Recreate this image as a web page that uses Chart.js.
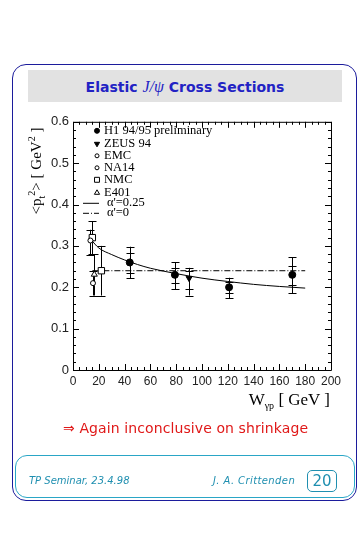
<!DOCTYPE html>
<html>
<head>
<meta charset="utf-8">
<script src="https://cdn.jsdelivr.net/npm/chart.js@4.4.1/dist/chart.umd.min.js"></script>
<style>
  body { margin: 0; width: 363px; height: 535px; background: #fff; position: relative; overflow: hidden; font-family: 'Liberation Sans', sans-serif; }
  .frame { position: absolute; left: 12px; top: 64px; width: 345px; height: 437px; box-sizing: border-box; border: 1.5px solid #1c1c9c; border-radius: 14px; }
  .title { position: absolute; left: 28px; top: 70px; width: 314px; height: 32px; background: #e2e2e2; color: #2222c4; font: bold 14px 'DejaVu Sans', sans-serif; text-align: center; line-height: 33px; }
  .title i { font-family: 'Liberation Serif', serif; font-weight: normal; font-size: 16px; }
  .chartbox { position: absolute; left: 20px; top: 110px; width: 325px; height: 290px; }
  .ytitle { position: absolute; left: -38px; top: 161px; width: 140px; height: 20px; transform: rotate(-90deg); text-align: center; font: 15px 'Liberation Serif', serif; line-height: 20px; }
  .xtitle { position: absolute; right: 33px; top: 390px; font: 17px 'Liberation Serif', serif; }
  sub, sup { font-size: 10px; }
  .remark { position: absolute; left: 63px; top: 420px; color: #e01818; font: 14px 'DejaVu Sans', sans-serif; letter-spacing: 0.1px; }
  .footer { position: absolute; left: 15px; top: 455px; width: 340px; height: 43px; box-sizing: border-box; border: 1.5px solid #2aa6c6; border-radius: 12px; }
  .foot { position: absolute; top: 475px; color: #1f8fb0; font: italic 10px 'DejaVu Sans', sans-serif; }
  .page { position: absolute; left: 307px; top: 470px; width: 30px; height: 22px; box-sizing: border-box; border: 1px solid #1f8fb0; border-radius: 5px; color: #1f8fb0; font: 15px 'DejaVu Sans', sans-serif; text-align: center; line-height: 20px; }
</style>
</head>
<body>
<div class="frame"></div>
<div class="title">Elastic <i>J/&psi;</i> Cross Sections</div>
<div class="chartbox"><canvas id="chart"></canvas></div>
<div class="ytitle">&lt;p<sub>t</sub><sup>2</sup>&gt; [ GeV<sup>2</sup> ]</div>
<div class="xtitle">W<sub>&gamma;p</sub> [ GeV ]</div>
<div class="remark">&rArr; Again inconclusive on shrinkage</div>
<div class="footer"></div>
<div class="foot" style="left:29px">TP Seminar, 23.4.98</div>
<div class="foot" style="left:213px; letter-spacing:0.4px">J. A. Crittenden</div>
<div class="page">20</div>
<script>
// H1 94/95 preliminary (total and statistical errors)
const h1W = [44, 79, 121, 170];
const h1Pt = [0.26, 0.23, 0.20, 0.23];
const h1TotLo = [0.222, 0.195, 0.174, 0.186];
const h1TotHi = [0.298, 0.26, 0.223, 0.272];
const h1StatLo = [0.235, 0.211, 0.187, 0.206];
const h1StatHi = [0.283, 0.247, 0.213, 0.251];

// ZEUS 94
const zeusW = [90];
const zeusPt = [0.222];
const zeusTotLo = [0.18];
const zeusTotHi = [0.247];
const zeusStatLo = [0.195];
const zeusStatHi = [0.239];

// fixed target experiments
const emcW = [15.5];
const emcPt = [0.21];
const emcLo = [0.18];
const emcHi = [0.24];

const na14W = [13.5];
const na14Pt = [0.313];
const na14Lo = [0.279];
const na14Hi = [0.339];

const nmcW = [15, 22];
const nmcPt = [0.32, 0.24];
const nmcLo = [0.28, 0.18];
const nmcHi = [0.36, 0.30];

const e401W = [16.5];
const e401Pt = [0.231];
const e401Lo = [0.18];
const e401Hi = [0.28];

// model curves
const fitW = [14, 20, 30, 40, 50, 60, 80, 100, 120, 140, 160, 180];
const fitPt = [0.315, 0.295, 0.279, 0.266, 0.255, 0.246, 0.233, 0.222, 0.214, 0.207, 0.202, 0.198];
const flatW = [15, 180];
const flatPt = [0.24, 0.24];

const legendLabels = ['H1 94/95 preliminary', 'ZEUS 94', 'EMC', 'NA14', 'NMC', 'E401', "\u03b1'=0.25", "\u03b1'=0"];

const pts = (xs, ys) => xs.map((x, i) => ({ x, y: ys[i] }));

// vertical error bars with caps, drawn through the chart scales
const errorBars = {
  id: 'errorBars',
  beforeDatasetsDraw(chart) {
    const ctx = chart.ctx;
    const xs = chart.scales.x, ys = chart.scales.y;
    ctx.save();
    ctx.strokeStyle = '#000';
    ctx.lineWidth = 1;
    const cap = (px, v) => {
      const py = Math.round(ys.getPixelForValue(v)) + 0.5;
      ctx.moveTo(px - 4, py);
      ctx.lineTo(px + 4, py);
    };
    chart.data.datasets.forEach(ds => {
      if (!ds.errLo) return;
      ds.data.forEach((p, i) => {
        const px = Math.round(xs.getPixelForValue(p.x)) + 0.5;
        ctx.beginPath();
        ctx.moveTo(px, ys.getPixelForValue(ds.errLo[i]));
        ctx.lineTo(px, ys.getPixelForValue(ds.errHi[i]));
        cap(px, ds.errLo[i]);
        cap(px, ds.errHi[i]);
        if (ds.statLo) {
          cap(px, ds.statLo[i]);
          cap(px, ds.statHi[i]);
        }
        ctx.stroke();
      });
    });
    ctx.restore();
  }
};

// box frame with inward ticks on all four sides
const frameTicks = {
  id: 'frameTicks',
  afterDraw(chart) {
    const ctx = chart.ctx;
    const a = chart.chartArea;
    const xs = chart.scales.x, ys = chart.scales.y;
    ctx.save();
    ctx.strokeStyle = '#000';
    ctx.lineWidth = 1;
    ctx.beginPath();
    ctx.rect(a.left + 0.5, a.top + 0.5, a.right - a.left, a.bottom - a.top);
    for (let v = 0; v <= 200; v += 5) {
      const px = Math.round(xs.getPixelForValue(v)) + 0.5;
      const len = v % 20 === 0 ? 6 : 3;
      ctx.moveTo(px, a.bottom); ctx.lineTo(px, a.bottom - len);
      ctx.moveTo(px, a.top); ctx.lineTo(px, a.top + len);
    }
    for (let k = 0; k <= 30; k++) {
      const py = Math.round(ys.getPixelForValue(k * 0.02)) + 0.5;
      const len = k % 5 === 0 ? 6 : 3;
      ctx.moveTo(a.left, py); ctx.lineTo(a.left + len, py);
      ctx.moveTo(a.right, py); ctx.lineTo(a.right - len, py);
    }
    ctx.stroke();
    ctx.restore();
  }
};

// legend inside the plot, top left
const insideLegend = {
  id: 'insideLegend',
  afterDraw(chart) {
    const ctx = chart.ctx;
    const a = chart.chartArea;
    const rows = [9, 22, 34, 46, 58, 71, 81, 91];
    const mx = a.left + 24;
    ctx.save();
    ctx.font = '12.5px "Liberation Serif", serif';
    ctx.textBaseline = 'middle';
    ctx.lineWidth = 1;
    chart.data.datasets.forEach((ds, i) => {
      const y = a.top + rows[i];
      ctx.strokeStyle = '#000';
      ctx.fillStyle = '#000';
      if (ds.showLine) {
        ctx.beginPath();
        ctx.setLineDash(ds.borderDash || []);
        ctx.moveTo(a.left + 10, y + 0.5);
        ctx.lineTo(a.left + 26, y + 0.5);
        ctx.stroke();
        ctx.setLineDash([]);
        ctx.fillText(legendLabels[i], a.left + 34, y);
      } else {
        ctx.fillStyle = ds.backgroundColor;
        Chart.helpers.drawPoint(ctx, {
          pointStyle: ds.pointStyle,
          radius: ds.legendRadius || ds.pointRadius,
          rotation: ds.pointRotation || 0,
          borderWidth: 1
        }, mx, y);
        ctx.fillStyle = '#000';
        ctx.fillText(legendLabels[i], a.left + 31, y);
      }
    });
    ctx.restore();
  }
};

new Chart(document.getElementById('chart'), {
  type: 'scatter',
  data: {
    datasets: [
      { label: legendLabels[0], data: pts(h1W, h1Pt), errLo: h1TotLo, errHi: h1TotHi, statLo: h1StatLo, statHi: h1StatHi,
        pointStyle: 'circle', pointRadius: 3.5, backgroundColor: '#000', borderColor: '#000', borderWidth: 1, legendRadius: 2.5 },
      { label: legendLabels[1], data: pts(zeusW, zeusPt), errLo: zeusTotLo, errHi: zeusTotHi, statLo: zeusStatLo, statHi: zeusStatHi,
        pointStyle: 'triangle', pointRotation: 180, pointRadius: 3.5, backgroundColor: '#000', borderColor: '#000', borderWidth: 1, legendRadius: 3 },
      { label: legendLabels[2], data: pts(emcW, emcPt), errLo: emcLo, errHi: emcHi,
        pointStyle: 'circle', pointRadius: 2.5, backgroundColor: '#fff', borderColor: '#000', borderWidth: 1, legendRadius: 2 },
      { label: legendLabels[3], data: pts(na14W, na14Pt), errLo: na14Lo, errHi: na14Hi,
        pointStyle: 'circle', pointRadius: 2.5, backgroundColor: '#fff', borderColor: '#000', borderWidth: 1, legendRadius: 2 },
      { label: legendLabels[4], data: pts(nmcW, nmcPt), errLo: nmcLo, errHi: nmcHi,
        pointStyle: 'rect', pointRadius: 4.5, backgroundColor: '#fff', borderColor: '#000', borderWidth: 1, legendRadius: 3.5 },
      { label: legendLabels[5], data: pts(e401W, e401Pt), errLo: e401Lo, errHi: e401Hi,
        pointStyle: 'triangle', pointRadius: 3.5, backgroundColor: '#fff', borderColor: '#000', borderWidth: 1, legendRadius: 3 },
      { label: legendLabels[6], data: pts(fitW, fitPt), showLine: true, pointRadius: 0,
        borderColor: '#000', borderWidth: 1, cubicInterpolationMode: 'monotone' },
      { label: legendLabels[7], data: pts(flatW, flatPt), showLine: true, pointRadius: 0,
        borderColor: '#000', borderWidth: 1, borderDash: [6, 2, 1, 2] }
    ]
  },
  options: {
    responsive: true,
    maintainAspectRatio: false,
    animation: false,
    layout: {
      padding: { left: 0, right: 13, top: 9, bottom: 0 }
    },
    plugins: {
      legend: { display: false },
      tooltip: { enabled: false }
    },
    scales: {
      x: {
        type: 'linear',
        min: 0,
        max: 200,
        grid: { display: false, drawTicks: false },
        border: { display: false },
        ticks: {
          stepSize: 20,
          autoSkip: false,
          maxRotation: 0,
          padding: 4,
          color: '#222',
          font: { family: 'Liberation Sans', size: 12 }
        },
        afterFit: scale => { scale.height = 30; }
      },
      y: {
        min: 0,
        max: 0.6,
        grid: { display: false, drawTicks: false },
        border: { display: false },
        ticks: {
          stepSize: 0.1,
          padding: 4,
          color: '#222',
          font: { family: 'Liberation Sans', size: 13 },
          callback: value => value === 0 ? '0' : value.toFixed(1)
        },
        afterFit: scale => { scale.width = 53; }
      }
    }
  },
  plugins: [errorBars, frameTicks, insideLegend]
});
</script>
</body>
</html>
